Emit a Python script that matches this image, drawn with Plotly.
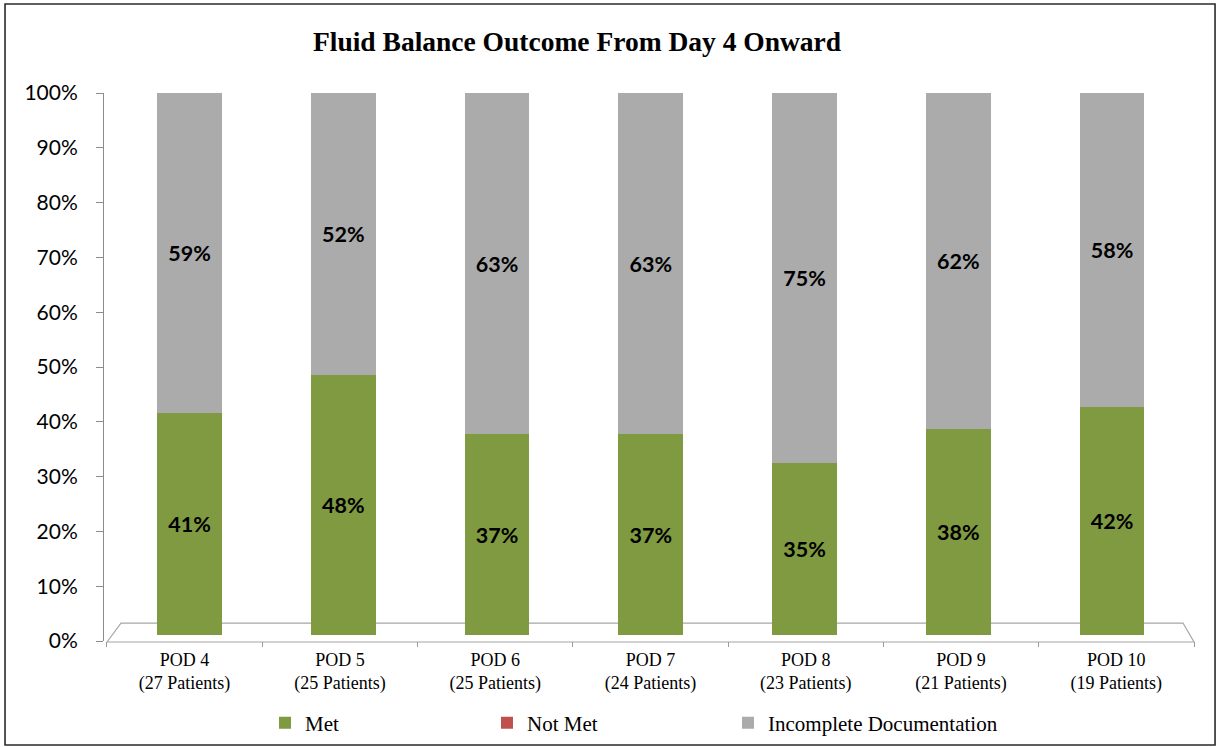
import plotly.graph_objects as go

categories = ["POD 4", "POD 5", "POD 6", "POD 7", "POD 8", "POD 9", "POD 10"]
patients = [27, 25, 25, 24, 23, 21, 19]
met = [41, 48, 37, 37, 35, 38, 42]
not_met = [0, 0, 0, 0, 0, 0, 0]
incomplete = [59, 52, 63, 63, 75, 62, 58]
y_ticks = [0, 10, 20, 30, 40, 50, 60, 70, 80, 90, 100]

tick_labels = [f"{c}<br>({p} Patients)" for c, p in zip(categories, patients)]

label_font = dict(family="Lato, Open Sans, sans-serif", size=21.5, color="black")
serif = "Liberation Serif, Times New Roman, serif"
GREEN, RED, GRAY = "#7F9A41", "#C0504D", "#ABABAB"
BAR_W = 0.42

fig = go.Figure()
fig.add_trace(go.Bar(name="Met", x=categories, y=met, marker=dict(color=GREEN, line=dict(width=0)),
                     text=[f"<b>{v}%</b>" for v in met], textposition="inside", insidetextanchor="middle",
                     textfont=label_font, hoverinfo="skip", width=BAR_W, legend="legend"))
fig.add_trace(go.Bar(name="Not Met", x=categories, y=not_met, marker=dict(color=RED, line=dict(width=0)),
                     hoverinfo="skip", width=BAR_W, legend="legend2"))
fig.add_trace(go.Bar(name="Incomplete Documentation", x=categories, y=incomplete,
                     marker=dict(color=GRAY, line=dict(width=0)),
                     text=[f"<b>{v}%</b>" for v in incomplete], textposition="inside", insidetextanchor="middle",
                     textfont=label_font, hoverinfo="skip", width=BAR_W, legend="legend3"))
# carrier trace for the front (labelled) axes
fig.add_trace(go.Scatter(x=[0], y=[0], xaxis="x2", yaxis="y2", mode="markers",
                         marker=dict(opacity=0), showlegend=False, hoverinfo="skip"))

legend_common = dict(orientation="h", xref="container", yref="container", xanchor="left",
                     y=0.0321, yanchor="middle", font=dict(family=serif, size=21, color="black"),
                     itemwidth=30, bgcolor="rgba(0,0,0,0)")

fig.update_layout(
    barmode="stack", barnorm="percent",
    width=1217, height=747,
    margin=dict(l=104, r=23, t=93, b=106, autoexpand=False),
    paper_bgcolor="white", plot_bgcolor="rgba(0,0,0,0)",
    title=dict(text="<b>Fluid Balance Outcome From Day 4 Onward</b>",
               font=dict(family=serif, size=27.5, color="black"),
               xref="paper", x=0.434, xanchor="center", y=0.945, yanchor="middle"),
    showlegend=True,
    legend=dict(x=265 / 1217, **legend_common),
    legend2=dict(x=487 / 1217, **legend_common),
    legend3=dict(x=728 / 1217, **legend_common),
    xaxis=dict(range=[-0.556, 6.533], showticklabels=False, ticks="", showline=False,
               showgrid=False, zeroline=False, automargin=False),
    yaxis=dict(range=[-1.107, 100], showticklabels=False, ticks="", showline=False,
               showgrid=False, zeroline=False, automargin=False),
    xaxis2=dict(overlaying="x", anchor="y2", type="linear", range=[-0.519, 6.5],
                tickmode="array", tickvals=list(range(len(categories))), ticktext=tick_labels,
                ticks="", showline=False, showgrid=False, zeroline=False, ticklabelstandoff=6,
                automargin=False,
                tickfont=dict(family=serif, size=18, color="black"),
                minor=dict(tickmode="array", tickvals=[i - 0.5 for i in range(len(categories) + 1)],
                           ticks="outside", ticklen=5, tickcolor="#9A9A9A", tickwidth=1, showgrid=False)),
    yaxis2=dict(overlaying="y", anchor="x2", side="left", range=[0, 100],
                tickmode="array", tickvals=y_ticks, ticktext=[f"{v}%" for v in y_ticks],
                showgrid=False, zeroline=False, showline=True, linecolor="#8C8C8C", linewidth=1,
                ticks="outside", ticklen=7, tickcolor="#8C8C8C", ticklabelstandoff=14,
                automargin=False,
                tickfont=dict(family="Lato, Open Sans, sans-serif", size=21, color="black")),
)

# floor of the 3D plot area
floor = "M 0.00275,-0.0018 L 0.0156,0.0328 L 0.9899,0.0328 L 1.0,-0.0018 Z"
fig.add_shape(type="path", xref="paper", yref="paper", path=floor,
              line=dict(color="#A6A6A6", width=1.2), layer="below")
# outer chart border
fig.add_shape(type="rect", xref="paper", yref="paper", x0=-0.0908, x1=1.0193, y0=-0.1898, y1=1.1624,
              line=dict(color="#2A2A2A", width=1.6))

fig.write_html("out.html", config={"displayModeBar": False},
               post_script="document.body.style.margin='0';")
